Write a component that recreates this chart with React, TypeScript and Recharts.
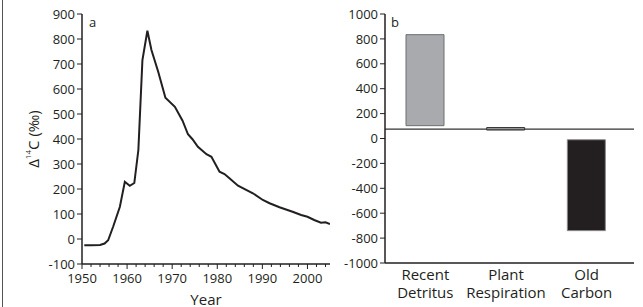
import React from "react";
import {
  LineChart,
  Line,
  XAxis,
  YAxis,
  BarChart,
  Bar,
  Cell,
  ReferenceLine,
} from "recharts";

// Panel a: atmospheric Δ14C record
const years = [
  1950.5, 1952, 1954, 1955, 1955.8, 1956.9, 1958.4, 1959.5, 1960.6, 1961.6, 1962.5,
  1963.4, 1964.5, 1965.4, 1966.9, 1968.5, 1970.6, 1972.3, 1973.5, 1974.5, 1975.7,
  1977.6, 1978.7, 1980.5, 1981.6, 1982.7, 1984.6, 1987.9, 1990.1, 1991.6, 1993.8,
  1996.7, 1998.6, 2000, 2001.5, 2003, 2004, 2005,
];
const d14c = [
  -25, -25, -24, -18, -5, 49, 129, 229, 213, 224, 356, 716, 833, 756, 669, 565, 529,
  473, 419, 399, 369, 339, 329, 269, 260, 243, 213, 183, 156, 143, 127, 109, 96, 89,
  76, 65, 67, 60,
];
const yearTicks = [1950, 1952, 1954, 1956, 1958, 1960, 1962, 1964, 1966, 1968, 1970, 1972, 1974, 1976, 1978, 1980, 1982, 1984, 1986, 1988, 1990, 1992, 1994, 1996, 1998, 2000, 2002, 2004];
const aTicks = [-100, 0, 100, 200, 300, 400, 500, 600, 700, 800, 900];

// Panel b: source Δ14C ranges
const categories = ["Recent Detritus", "Plant Respiration", "Old Carbon"];
const lows = [103, 68, -740];
const highs = [834, 88, -10];
const barFills = ["#a9aaad", "#ffffff", "#231f20"];
const barStrokes = ["#6d6e71", "#333333", "#8a8a8a"];
const baseline = 76;
const bTicks = [-1000, -800, -600, -400, -200, 0, 200, 400, 600, 800, 1000];

const lineData = years.map((y, i) => ({ year: y, value: d14c[i] }));
const barData = categories.map((c, i) => ({ name: c, range: [lows[i], highs[i]] }));

const FONT = "'Open Sans', sans-serif";
const INK = "#231f20";

const YearTick = (props: any) => {
  const { x, y, payload } = props;
  const v = payload.value as number;
  const major = v % 10 === 0;
  return (
    <g>
      <line x1={x} x2={x} y1={y} y2={y + (major ? 5 : 3)} stroke={INK} strokeWidth={1} />
      {major ? (
        <text x={x} y={y + 19} textAnchor="middle" fontSize={13} fontFamily={FONT} fill={INK}>
          {v}
        </text>
      ) : null}
    </g>
  );
};

const CatTick = (props: any) => {
  const { x, y, payload } = props;
  const parts = String(payload.value).split(" ");
  return (
    <g>
      <text x={x} y={y + 17} textAnchor="middle" fontSize={15} fontFamily={FONT} fill={INK}>
        {parts[0]}
      </text>
      <text x={x} y={y + 35} textAnchor="middle" fontSize={15} fontFamily={FONT} fill={INK}>
        {parts[1]}
      </text>
    </g>
  );
};

const YLabel = () => (
  <text
    x={33}
    y={139}
    transform="rotate(-90 33 139)"
    textAnchor="middle"
    dominantBaseline="central"
    fontSize={15}
    fontFamily={FONT}
    fill={INK}
  >
    Δ<tspan fontSize={8} dy={-6}>14</tspan>
    <tspan dy={6}>C (‰)</tspan>
  </text>
);

const XLabel = () => (
  <text x={206} y={305} textAnchor="middle" fontSize={15} fontFamily={FONT} fill={INK}>
    Year
  </text>
);

export default function App() {
  return (
    <div
      style={{
        position: "absolute",
        left: 0,
        top: 0,
        width: 643,
        height: 307,
        background: "#fff",
        overflow: "hidden",
      }}
    >
      <div style={{ position: "absolute", left: 2, top: 0, width: 1, height: 307, background: "#555" }} />
      <div style={{ position: "absolute", left: 0, top: 0 }}>
        <LineChart
          width={335}
          height={307}
          data={lineData}
          margin={{ top: 14, right: 5, left: 0, bottom: 0 }}
        >
          <XAxis
            dataKey="year"
            type="number"
            domain={[1950, 2005]}
            ticks={yearTicks}
            interval={0}
            allowDataOverflow
            height={43}
            tickLine={false}
            tickSize={0}
            tickMargin={0}
            tick={<YearTick />}
            axisLine={{ stroke: INK, strokeWidth: 1.5 }}
            label={<XLabel />}
          />
          <XAxis
            xAxisId="top"
            orientation="top"
            dataKey="year"
            type="number"
            domain={[1950, 2005]}
            allowDataOverflow
            height={0}
            tick={false}
            tickLine={false}
            axisLine={{ stroke: "#333", strokeWidth: 1.2 }}
          />
          <YAxis
            type="number"
            domain={[-100, 900]}
            ticks={aTicks}
            interval={0}
            width={82}
            tickSize={5}
            tickMargin={2}
            tick={{ fontSize: 13, fontFamily: FONT, fill: INK }}
            tickLine={{ stroke: INK }}
            axisLine={{ stroke: INK, strokeWidth: 1.5 }}
            label={<YLabel />}
          />
          <YAxis
            yAxisId="right"
            orientation="right"
            type="number"
            domain={[-100, 900]}
            width={0}
            tick={false}
            tickLine={false}
            axisLine={{ stroke: "#333", strokeWidth: 1.2 }}
          />
          <Line
            dataKey="value"
            type="linear"
            stroke={INK}
            strokeWidth={2}
            dot={false}
            isAnimationActive={false}
          />
        </LineChart>
      </div>
      <div
        style={{ position: "absolute", left: 89, top: 13, fontSize: 13, fontFamily: FONT, color: INK }}
      >
        a
      </div>
      <div style={{ position: "absolute", left: 335, top: 0 }}>
        <BarChart
          width={308}
          height={307}
          data={barData}
          margin={{ top: 14, right: 9, left: 0, bottom: 0 }}
          barSize={38}
        >
          <XAxis
            dataKey="name"
            type="category"
            interval={0}
            height={44}
            padding={{ left: 0, right: 7 }}
            tickLine={false}
            tickSize={0}
            tickMargin={0}
            tick={<CatTick />}
            axisLine={{ stroke: INK, strokeWidth: 1.5 }}
          />
          <XAxis
            xAxisId="top"
            orientation="top"
            dataKey="name"
            type="category"
            height={0}
            tick={false}
            tickLine={false}
            axisLine={{ stroke: "#333", strokeWidth: 1.2 }}
          />
          <YAxis
            type="number"
            domain={[-1000, 1000]}
            ticks={bTicks}
            interval={0}
            width={50}
            tickSize={5}
            tickMargin={2}
            tick={{ fontSize: 13, fontFamily: FONT, fill: INK }}
            tickLine={{ stroke: INK }}
            axisLine={{ stroke: INK, strokeWidth: 1.5 }}
          />
          <YAxis
            yAxisId="right"
            orientation="right"
            type="number"
            domain={[-1000, 1000]}
            width={0}
            tick={false}
            tickLine={false}
            axisLine={{ stroke: "#333", strokeWidth: 1.2 }}
          />
          <ReferenceLine y={baseline} stroke="#333" strokeWidth={1.3} />
          <Bar dataKey="range" isAnimationActive={false}>
            {barData.map((d, i) => (
              <Cell key={d.name} fill={barFills[i]} stroke={barStrokes[i]} strokeWidth={1} />
            ))}
          </Bar>
        </BarChart>
      </div>
      <div
        style={{ position: "absolute", left: 391, top: 13, fontSize: 13, fontFamily: FONT, color: INK }}
      >
        b
      </div>
    </div>
  );
}
